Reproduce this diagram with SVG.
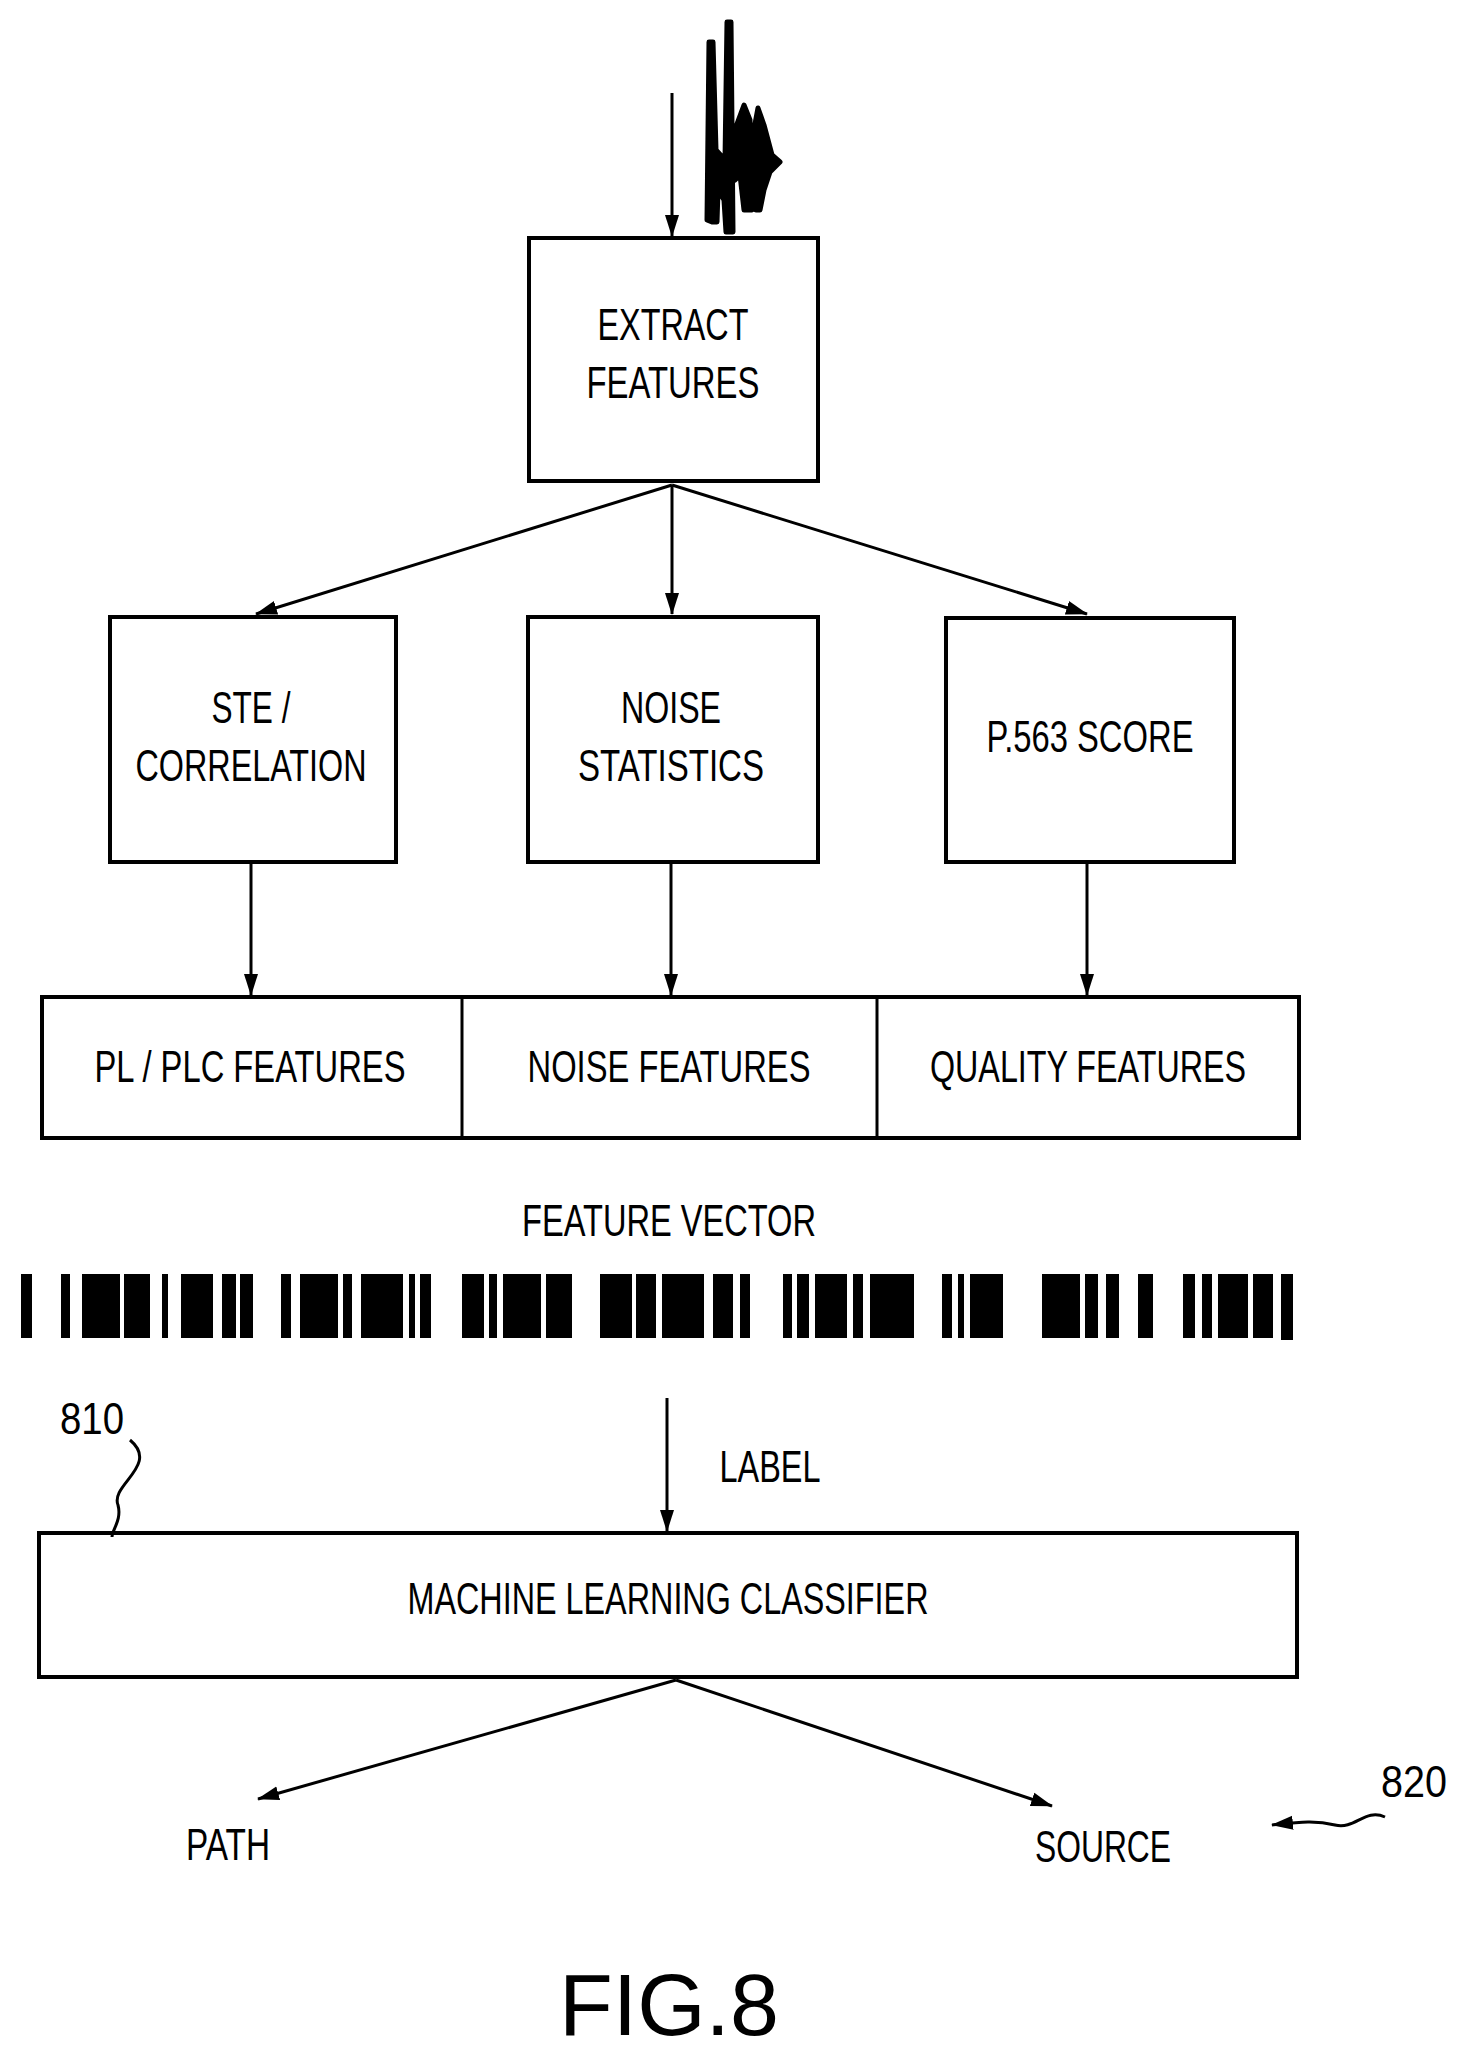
<svg xmlns="http://www.w3.org/2000/svg" width="1462" height="2053" viewBox="0 0 1462 2053">
<style>
.b{fill:#fff;stroke:#000;stroke-width:4}
.t{font-family:"Liberation Sans",Arial,sans-serif;font-size:44px;fill:#000;text-anchor:middle}
.c{stroke:#000;stroke-width:3;fill:none}
</style>
<defs>
<marker id="A" markerWidth="22" markerHeight="16" refX="21" refY="8" orient="auto" markerUnits="userSpaceOnUse" viewBox="0 0 22 16"><path d="M0,1 L22,8 L0,15 z" fill="#000"/></marker></defs>
<rect width="1462" height="2053" fill="#fff"/>
<g id="wave"><path d="M707,220 L709,42 L713,42 L716,150 L725,160 L727,22 L731,22 L733,232 L726,232 L724,200 L718,190 L717,222 L712,222 Z M731,140 L744,105 L750,120 L752,210 L744,210 L740,175 L735,180 Z M752,140 L758,108 L764,125 L772,155 L780,162 L770,172 L764,190 L760,210 L756,210 Z" fill="#000" stroke="#000" stroke-width="5" stroke-linejoin="round"/></g>
<g id="extract"><rect class="b" x="529" y="238" width="289" height="243"/><text class="t" x="673" y="340" textLength="151" lengthAdjust="spacingAndGlyphs">EXTRACT</text><text class="t" x="673" y="398" textLength="173" lengthAdjust="spacingAndGlyphs">FEATURES</text></g>
<g id="ste"><rect class="b" x="110" y="617" width="286" height="245"/><text class="t" x="251" y="723" textLength="79" lengthAdjust="spacingAndGlyphs">STE /</text><text class="t" x="251" y="781" textLength="231" lengthAdjust="spacingAndGlyphs">CORRELATION</text></g>
<g id="noise"><rect class="b" x="528" y="617" width="290" height="245"/><text class="t" x="671" y="723" textLength="100" lengthAdjust="spacingAndGlyphs">NOISE</text><text class="t" x="671" y="781" textLength="186" lengthAdjust="spacingAndGlyphs">STATISTICS</text></g>
<g id="p563"><rect class="b" x="946" y="618" width="288" height="244"/><text class="t" x="1090" y="752" textLength="207" lengthAdjust="spacingAndGlyphs">P.563 SCORE</text></g>
<g id="features"><rect class="b" x="42" y="997" width="1257" height="141"/><line class="c" x1="462" y1="997" x2="462" y2="1138"/><line class="c" x1="877" y1="997" x2="877" y2="1138"/>
<text class="t" x="250" y="1082" textLength="311" lengthAdjust="spacingAndGlyphs">PL / PLC FEATURES</text><text class="t" x="669" y="1082" textLength="283" lengthAdjust="spacingAndGlyphs">NOISE FEATURES</text><text class="t" x="1088" y="1082" textLength="316" lengthAdjust="spacingAndGlyphs">QUALITY FEATURES</text></g>
<g id="vector"><text class="t" x="669" y="1236" textLength="294" lengthAdjust="spacingAndGlyphs">FEATURE VECTOR</text>
<g fill="#000">
<rect x="21" y="1274" width="11" height="64"/>
<rect x="61" y="1274" width="9" height="64"/><rect x="82" y="1274" width="38" height="64"/><rect x="124" y="1274" width="26" height="64"/><rect x="162" y="1274" width="6" height="64"/><rect x="181" y="1274" width="32" height="64"/><rect x="222" y="1274" width="14" height="64"/><rect x="240" y="1274" width="13" height="64"/>
<rect x="281" y="1274" width="10" height="64"/><rect x="300" y="1274" width="38" height="64"/><rect x="343" y="1274" width="9" height="64"/><rect x="361" y="1274" width="42" height="64"/><rect x="409" y="1274" width="6" height="64"/><rect x="420" y="1274" width="11" height="64"/>
<rect x="462" y="1274" width="22" height="64"/><rect x="489" y="1274" width="8" height="64"/><rect x="503" y="1274" width="38" height="64"/><rect x="546" y="1274" width="26" height="64"/>
<rect x="600" y="1274" width="32" height="64"/><rect x="636" y="1274" width="20" height="64"/><rect x="662" y="1274" width="42" height="64"/><rect x="713" y="1274" width="20" height="64"/><rect x="740" y="1274" width="10" height="64"/>
<rect x="783" y="1274" width="9" height="64"/><rect x="797" y="1274" width="12" height="64"/><rect x="815" y="1274" width="32" height="64"/><rect x="853" y="1274" width="10" height="64"/><rect x="870" y="1274" width="44" height="64"/>
<rect x="942" y="1274" width="10" height="64"/><rect x="958" y="1274" width="6" height="64"/><rect x="970" y="1274" width="33" height="64"/>
<rect x="1042" y="1274" width="38" height="64"/><rect x="1085" y="1274" width="13" height="64"/><rect x="1106" y="1274" width="13" height="64"/><rect x="1138" y="1274" width="15" height="64"/>
<rect x="1183" y="1274" width="12" height="64"/><rect x="1202" y="1274" width="10" height="64"/><rect x="1218" y="1274" width="30" height="64"/><rect x="1253" y="1274" width="20" height="64"/><rect x="1281" y="1274" width="12" height="66"/>
</g></g>
<g id="classifier"><rect class="b" x="39" y="1533" width="1258" height="144"/><text class="t" x="668" y="1614" textLength="521" lengthAdjust="spacingAndGlyphs">MACHINE LEARNING CLASSIFIER</text></g>
<g id="labels">
<text class="t" x="770" y="1482" textLength="101" lengthAdjust="spacingAndGlyphs">LABEL</text>
<text class="t" x="92" y="1434" textLength="64" lengthAdjust="spacingAndGlyphs">810</text>
<text class="t" x="228" y="1860" textLength="84" lengthAdjust="spacingAndGlyphs">PATH</text>
<text class="t" x="1103" y="1862" textLength="136" lengthAdjust="spacingAndGlyphs">SOURCE</text>
<text class="t" x="1414" y="1797" textLength="66" lengthAdjust="spacingAndGlyphs">820</text>
<text x="669" y="2035" font-family="Liberation Sans,Arial,sans-serif" font-size="88" text-anchor="middle">FIG.8</text>
</g>
<g id="connectors" class="c">
<line x1="672" y1="93" x2="672" y2="236" marker-end="url(#A)"/>
<line x1="672" y1="485" x2="256" y2="614" marker-end="url(#A)"/>
<line x1="672" y1="485" x2="672" y2="614" marker-end="url(#A)"/>
<line x1="672" y1="485" x2="1087" y2="614" marker-end="url(#A)"/>
<line x1="251" y1="862" x2="251" y2="995" marker-end="url(#A)"/>
<line x1="671" y1="862" x2="671" y2="995" marker-end="url(#A)"/>
<line x1="1087" y1="862" x2="1087" y2="995" marker-end="url(#A)"/>
<line x1="667" y1="1398" x2="667" y2="1531" marker-end="url(#A)"/>
<line x1="676" y1="1680" x2="258" y2="1799" marker-end="url(#A)"/>
<line x1="676" y1="1680" x2="1052" y2="1806" marker-end="url(#A)"/>
<path d="M130,1440 C160,1465 110,1485 118,1505 C122,1520 112,1530 112,1537"/>
<path d="M1385,1817 C1365,1808 1355,1830 1335,1825 C1315,1820 1300,1822 1272,1825" marker-end="url(#A)"/>
</g>
</svg>
